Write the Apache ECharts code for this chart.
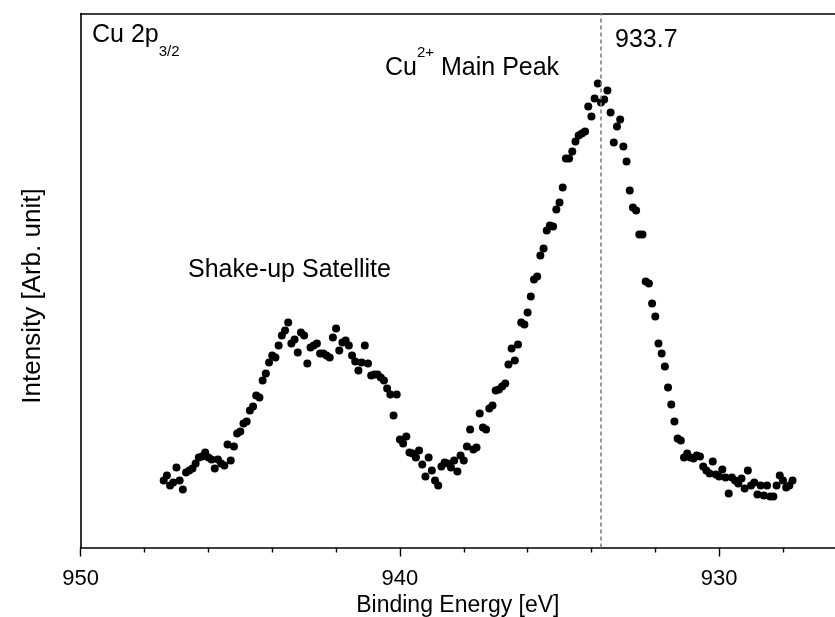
<!DOCTYPE html>
<html>
<head>
<meta charset="utf-8">
<script src="https://cdn.jsdelivr.net/npm/echarts@6/dist/echarts.min.js"></script>
<style>
  html, body { margin: 0; padding: 0; background: #ffffff; }
  #chart { width: 835px; height: 617px; }
</style>
</head>
<body>
<div id="chart"></div>
<script>
// Cu 2p3/2 XPS spectrum: binding energy (eV) and measured intensity (arb. units)
const bindingEnergy = [
  947.4, 947.3, 947.2, 947.1, 947.0, 946.9, 946.8, 946.7, 946.6, 946.5,
  946.4, 946.3, 946.2, 946.1, 946.0, 945.9, 945.8, 945.7, 945.6, 945.5,
  945.4, 945.3, 945.2, 945.1, 945.0, 944.9, 944.8, 944.7, 944.6, 944.5,
  944.4, 944.3, 944.2, 944.1, 944.0, 943.9, 943.8, 943.7, 943.6, 943.5,
  943.4, 943.3, 943.2, 943.1, 943.0, 942.9, 942.8, 942.7, 942.6, 942.5,
  942.4, 942.3, 942.2, 942.1, 942.0, 941.9, 941.8, 941.7, 941.6, 941.5,
  941.4, 941.3, 941.2, 941.1, 941.0, 940.9, 940.8, 940.7, 940.6, 940.5,
  940.4, 940.3, 940.2, 940.1, 940.0, 939.9, 939.8, 939.7, 939.6, 939.5,
  939.4, 939.3, 939.2, 939.1, 939.0, 938.9, 938.8, 938.7, 938.6, 938.5,
  938.4, 938.3, 938.2, 938.1, 938.0, 937.9, 937.8, 937.7, 937.6, 937.5,
  937.4, 937.3, 937.2, 937.1, 937.0, 936.9, 936.8, 936.7, 936.6, 936.5,
  936.4, 936.3, 936.2, 936.1, 936.0, 935.9, 935.8, 935.7, 935.6, 935.5,
  935.4, 935.3, 935.2, 935.1, 935.0, 934.9, 934.8, 934.7, 934.6, 934.5,
  934.4, 934.3, 934.2, 934.1, 934.0, 933.9, 933.8, 933.7, 933.6, 933.5,
  933.4, 933.3, 933.2, 933.1, 933.0, 932.9, 932.8, 932.7, 932.6, 932.5,
  932.4, 932.3, 932.2, 932.1, 932.0, 931.9, 931.8, 931.7, 931.6, 931.5,
  931.4, 931.3, 931.2, 931.1, 931.0, 930.9, 930.8, 930.7, 930.6, 930.5,
  930.4, 930.3, 930.2, 930.1, 930.0, 929.9, 929.8, 929.7, 929.6, 929.5,
  929.4, 929.3, 929.2, 929.1, 929.0, 928.9, 928.8, 928.7, 928.6, 928.5,
  928.4, 928.3, 928.2, 928.1, 928.0, 927.9, 927.8, 927.7
];

const intensity = [
   67,  72,  62,  65,  80,  67,  58,  75,  77,  79,
   84,  90,  91,  95,  90,  88,  79,  88,  84,  82,
  103,  87, 101, 114, 116, 124, 126, 137, 141, 152,
  150, 167, 174, 185, 192, 190, 202, 212, 217, 225,
  204, 208, 195, 215, 212, 184, 200, 202, 204, 194,
  194, 192, 190, 210, 219, 197, 205, 207, 202, 192,
  186, 177, 185, 202, 184, 172, 173, 173, 170, 167,
  159, 153, 132, 153, 108, 104, 111,  95,  94,  90,
   97,  83,  71,  90,  77,  67,  62,  81,  85,  84,
   80,  87,  76,  92,  87, 101, 118,  98, 100, 134,
  120, 118, 139, 142, 157, 158, 161, 164, 183, 199,
  187, 203, 225, 223, 235, 251, 268, 271, 292, 299,
  317, 322, 321, 338, 345, 360, 389, 389, 396, 406,
  412, 414, 416, 441, 431, 449, 464, 445, 448, 457,
  435, 405, 421, 428, 401, 386, 357, 340, 337, 313,
  313, 266, 264, 244, 231, 204, 194, 181, 160, 143,
  126, 109, 107,  90,  94,  90,  89,  92,  91,  81,
   77,  74,  86,  73,  71,  78,  70,  54,  70,  67,
   64,  69,  59,  77,  62,  65,  53,  62,  52,  62,
   51,  51,  62,  72,  67,  60,  62,  67
];

// Axis ticks and labels
const xMajorTicks = [950, 940, 930];
const xMinorTicks = [948, 946, 944, 942, 938, 936, 934, 932, 928];
const xRange = [926.37, 950];
const yRange = [0, 534];

// Position of the Cu2+ main peak marker
const mainPeakEnergy = 933.7;

const FONT = '"Liberation Sans", Arial, Helvetica, sans-serif';

const points = bindingEnergy.map((e, i) => [e, intensity[i]]);

const chart = echarts.init(document.getElementById('chart'), null, { renderer: 'canvas' });

// Fixed plot frame; labels are allowed to sit outside it
const gridBox = { left: 80.7, right: 0, top: 13.5, bottom: 69.5 };

const commonX = {
  type: 'value',
  min: xRange[0],
  max: xRange[1],
  inverse: true,
  splitLine: { show: false }
};

chart.setOption({
  animation: false,
  backgroundColor: '#ffffff',
  grid: Object.assign({ containLabel: false, outerBoundsMode: 'none' }, gridBox),
  xAxis: [
    Object.assign({}, commonX, {
      position: 'bottom',
      name: 'Binding Energy [eV]',
      nameLocation: 'middle',
      nameGap: 45,
      nameTextStyle: { fontFamily: FONT, fontSize: 23, color: '#000' },
      axisLine: { show: true, onZero: false, lineStyle: { color: '#000', width: 1.6 } },
      axisTick: { show: true, inside: false, length: 9, customValues: xMajorTicks,
                  lineStyle: { color: '#000', width: 1.4 } },
      axisLabel: { show: true, customValues: xMajorTicks, margin: 20,
                   fontFamily: FONT, fontSize: 22, color: '#000' }
    }),
    Object.assign({}, commonX, {
      position: 'bottom',
      axisLine: { show: false },
      axisTick: { show: true, inside: false, length: 5, customValues: xMinorTicks,
                  lineStyle: { color: '#000', width: 1.4 } },
      axisLabel: { show: false }
    }),
    Object.assign({}, commonX, {
      position: 'top',
      axisLine: { show: true, onZero: false, lineStyle: { color: '#000', width: 1.6 } },
      axisTick: { show: false },
      axisLabel: { show: false }
    })
  ],
  yAxis: {
    type: 'value',
    min: yRange[0],
    max: yRange[1],
    axisLine: { show: true, onZero: false, lineStyle: { color: '#000', width: 1.6 } },
    axisTick: { show: false },
    axisLabel: { show: false },
    splitLine: { show: false }
  },
  series: [{
    type: 'scatter',
    xAxisIndex: 0,
    data: points,
    symbol: 'circle',
    symbolSize: 8,
    itemStyle: { color: '#000', opacity: 1 },
    silent: true,
    markLine: {
      silent: true,
      symbol: 'none',
      label: { show: false },
      lineStyle: { color: '#808080', type: [4, 3], width: 1.6 },
      data: [{ xAxis: mainPeakEnergy }]
    }
  }]
});

// Text annotations; the peak value label follows the marker line's position
const peakPx = chart.convertToPixel({ xAxisIndex: 0 }, mainPeakEnergy);

chart.setOption({
  graphic: [
    {
      type: 'text', x: 33, y: 296, rotation: Math.PI / 2,
      style: {
        text: 'Intensity [Arb. unit]', fontFamily: FONT, fontSize: 26, fill: '#000',
        align: 'center', verticalAlign: 'middle'
      }
    },
    {
      type: 'text', left: 92, top: 23,
      style: {
        text: '{m|Cu 2p}{s|3/2}',
        rich: {
          m: { fontFamily: FONT, fontSize: 25, fill: '#000', lineHeight: 30, verticalAlign: 'top' },
          s: { fontFamily: FONT, fontSize: 15, fill: '#000', lineHeight: 15, verticalAlign: 'top', padding: [21, 0, 0, 0] }
        }
      }
    },
    {
      type: 'text', left: peakPx + 14, top: 25,
      style: { text: String(mainPeakEnergy), fontFamily: FONT, fontSize: 25, lineHeight: 30, fill: '#000' }
    },
    {
      type: 'text', left: 385, top: 45,
      style: {
        text: '{m|Cu}{s|2+}{m| Main Peak}',
        rich: {
          m: { fontFamily: FONT, fontSize: 25, fill: '#000', lineHeight: 36, verticalAlign: 'bottom' },
          s: { fontFamily: FONT, fontSize: 15, fill: '#000', lineHeight: 16, verticalAlign: 'top' }
        }
      }
    },
    {
      type: 'text', left: 188, top: 255,
      style: { text: 'Shake-up Satellite', fontFamily: FONT, fontSize: 25, lineHeight: 30, fill: '#000' }
    }
  ]
});
</script>
</body>
</html>
